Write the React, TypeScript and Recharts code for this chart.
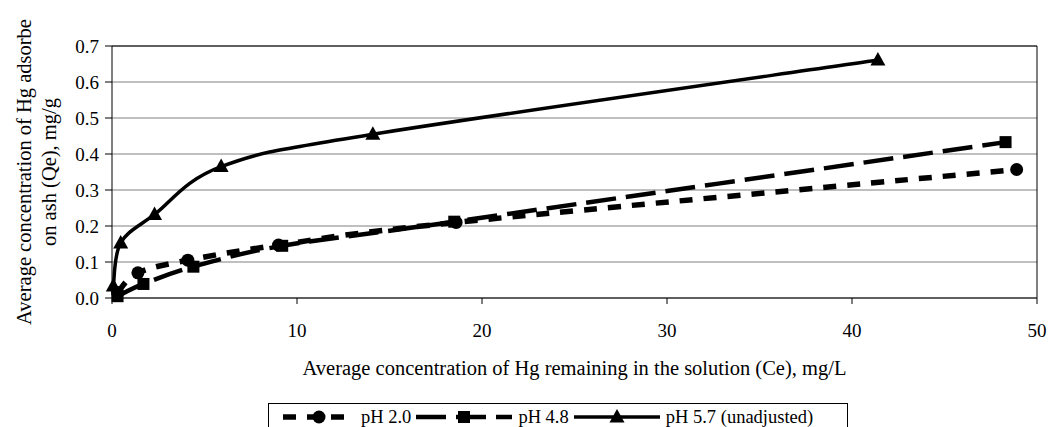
import { LineChart, Line, XAxis, YAxis, CartesianGrid, ReferenceLine, Label } from "recharts";

// values
const ph20Ce = [0.3, 1.4, 4.1, 9.0, 18.6, 48.9];
const ph20Qe = [0.015, 0.07, 0.105, 0.147, 0.21, 0.357];
const ph48Ce = [0.3, 1.7, 4.4, 9.2, 18.5, 48.3];
const ph48Qe = [0.005, 0.039, 0.087, 0.145, 0.212, 0.433];
const ph57Ce = [0.07, 0.47, 2.3, 5.9, 14.1, 41.4];
const ph57Qe = [0.033, 0.153, 0.232, 0.365, 0.455, 0.661];

const seriesNames = ["pH 2.0", "pH 4.8", "pH 5.7 (unadjusted)"];
const xTicks = [0, 10, 20, 30, 40, 50];
const yTicks = [0, 0.1, 0.2, 0.3, 0.4, 0.5, 0.6, 0.7];

const toRows = (xs: number[], ys: number[]) => xs.map((x, i) => ({ x, y: ys[i] }));

const FONT = '"Liberation Serif", "Times New Roman", serif';

// excel-style smoothed line (catmull-rom through the points)
function excelSmooth(context: any) {
  let pts: number[][] = [];
  return {
    areaStart() {},
    areaEnd() {},
    lineStart() {
      pts = [];
    },
    point(x: number, y: number) {
      pts.push([+x, +y]);
    },
    lineEnd() {
      if (!pts.length) return;
      context.moveTo(pts[0][0], pts[0][1]);
      for (let i = 0; i < pts.length - 1; i++) {
        const p0 = pts[Math.max(0, i - 1)];
        const p1 = pts[i];
        const p2 = pts[i + 1];
        const p3 = pts[Math.min(pts.length - 1, i + 2)];
        context.bezierCurveTo(
          p1[0] + (p2[0] - p0[0]) / 6,
          p1[1] + (p2[1] - p0[1]) / 6,
          p2[0] - (p3[0] - p1[0]) / 6,
          p2[1] - (p3[1] - p1[1]) / 6,
          p2[0],
          p2[1]
        );
      }
    },
  };
}

const Circle = (props: any) => {
  const { cx, cy } = props;
  if (cx == null || cy == null) return null;
  return <circle cx={cx} cy={cy} r={6.5} fill="#000" />;
};
const Square = (props: any) => {
  const { cx, cy } = props;
  if (cx == null || cy == null) return null;
  return <rect x={cx - 6} y={cy - 6} width={12} height={12} fill="#000" />;
};
const Triangle = (props: any) => {
  const { cx, cy } = props;
  if (cx == null || cy == null) return null;
  return <path d={`M${cx},${cy - 8} L${cx + 7.5},${cy + 5.5} L${cx - 7.5},${cy + 5.5} Z`} fill="#000" />;
};

const styles: Record<string, { dash?: string; width: number; marker: any; sample: number }> = {
  "pH 2.0": { dash: "13 11", width: 5.5, marker: Circle, sample: 72 },
  "pH 4.8": { dash: "30 10", width: 4.5, marker: Square, sample: 96 },
  "pH 5.7 (unadjusted)": { width: 3.5, marker: Triangle, sample: 86 },
};

const LegendBox = () => (
  <div
    style={{
      position: "absolute",
      left: 268,
      top: 403,
      border: "1px solid #000",
      height: 28,
      width: 580,
      display: "flex",
      alignItems: "center",
      paddingLeft: 14,
      boxSizing: "border-box",
      fontFamily: FONT,
      fontSize: 18.5,
      color: "#000",
    }}
  >
    {seriesNames.map((name) => {
      const s = styles[name];
      const M = s.marker;
      return (
        <div key={name} style={{ display: "flex", alignItems: "center", marginRight: 5 }}>
          <svg width={s.sample} height={20} style={{ marginRight: 6 }}>
            <line x1={0} y1={10} x2={s.sample} y2={10} stroke="#000" strokeWidth={s.width} strokeDasharray={s.dash} />
            <M cx={s.sample / 2} cy={10} />
          </svg>
          <span style={{ whiteSpace: "nowrap", lineHeight: "20px" }}>{name}</span>
        </div>
      );
    })}
  </div>
);

export default function App() {
  return (
    <div style={{ position: "absolute", left: 0, top: 0, width: 1049, height: 427, overflow: "hidden", background: "#fff", fontFamily: FONT }}>
      <LineChart width={1049} height={427} margin={{ top: 46, right: 12, left: 0, bottom: 0 }}>
        <CartesianGrid horizontal vertical={false} stroke="#808080" />
        <XAxis
          type="number"
          dataKey="x"
          domain={[0, 50]}
          ticks={xTicks}
          interval={0}
          height={129}
          tickSize={6}
          tickMargin={20}
          stroke="#000"
          tick={{ fill: "#000", fontSize: 19, fontFamily: FONT }}
        >
          <Label
            content={(p: any) => (
              <text
                x={p.viewBox.x + p.viewBox.width / 2}
                y={p.viewBox.y + 70}
                textAnchor="middle"
                dominantBaseline="central"
                fontSize={20.5}
                fontFamily={FONT}
                fill="#000"
              >
                Average concentration of Hg remaining in the solution (Ce), mg/L
              </text>
            )}
          />
        </XAxis>
        <YAxis
          type="number"
          domain={[0, 0.7]}
          ticks={yTicks}
          interval={0}
          width={112}
          tickSize={7}
          tickMargin={6}
          stroke="#000"
          tickFormatter={(v: number) => v.toFixed(1)}
          tick={{ fill: "#000", fontSize: 19, fontFamily: FONT }}
        >
          <Label
            content={(p: any) => {
              const cy = p.viewBox.y + p.viewBox.height / 2;
              return (
                <g fontSize={20.5} fontFamily={FONT} fill="#000">
                  <text transform={`translate(24,${cy}) rotate(-90)`} textAnchor="middle" dominantBaseline="central">
                    Average concentration of Hg adsorbe
                  </text>
                  <text transform={`translate(49,${cy}) rotate(-90)`} textAnchor="middle" dominantBaseline="central">
                    on ash (Qe), mg/g
                  </text>
                </g>
              );
            }}
          />
        </YAxis>
        <ReferenceLine y={0.7} stroke="#000" />
        <ReferenceLine x={50} stroke="#000" />
        <Line
          name="pH 2.0"
          data={toRows(ph20Ce, ph20Qe)}
          dataKey="y"
          type={excelSmooth as any}
          stroke="#000"
          strokeWidth={styles["pH 2.0"].width}
          strokeDasharray={styles["pH 2.0"].dash}
          dot={<Circle />}
          activeDot={false}
          isAnimationActive={false}
        />
        <Line
          name="pH 4.8"
          data={toRows(ph48Ce, ph48Qe)}
          dataKey="y"
          type={excelSmooth as any}
          stroke="#000"
          strokeWidth={styles["pH 4.8"].width}
          strokeDasharray={styles["pH 4.8"].dash}
          dot={<Square />}
          activeDot={false}
          isAnimationActive={false}
        />
        <Line
          name="pH 5.7 (unadjusted)"
          data={toRows(ph57Ce, ph57Qe)}
          dataKey="y"
          type={excelSmooth as any}
          stroke="#000"
          strokeWidth={styles["pH 5.7 (unadjusted)"].width}
          dot={<Triangle />}
          activeDot={false}
          isAnimationActive={false}
        />
      </LineChart>
      <LegendBox />
    </div>
  );
}
